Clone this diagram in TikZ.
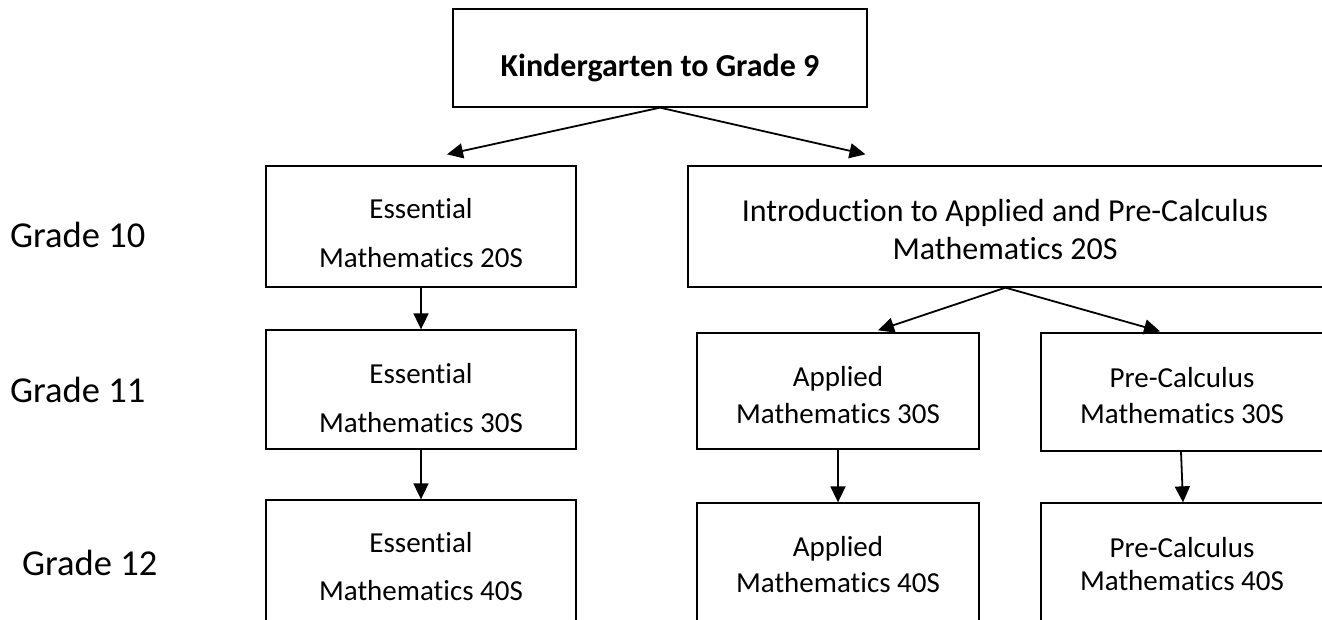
\documentclass[tikz,border=0pt]{standalone}
\usepackage{fontspec}
\setmainfont{Carlito}[Ligatures=NoCommon]
\usetikzlibrary{arrows.meta,calc}
\begin{document}
\begin{tikzpicture}[x=1pt,y=-1pt,
  box/.style={draw=black,line width=1.3pt,fill=white,inner sep=0pt},
  arr/.style={line width=1.8pt,-{Triangle[length=16pt,width=15pt]}},
  txt/.style={anchor=base,inner sep=0pt,font=\fontsize{29}{35}\selectfont},
  bigtxt/.style={anchor=base,inner sep=0pt,font=\fontsize{32}{38}\selectfont},
  gradetxt/.style={anchor=base west,inner sep=0pt,font=\fontsize{36.5}{44}\selectfont}]
\useasboundingbox (0,0) rectangle (1322,620);
\clip (0,0) rectangle (1322,620);
% boxes
\node[box,minimum width=414pt,minimum height=98pt] (k9) at (660,58) {};
\node[box,minimum width=310pt,minimum height=121pt] (e20) at (421,226.5) {};
\node[box,minimum width=310pt,minimum height=119pt] (e30) at (421,389.5) {};
\node[box,minimum width=310pt,minimum height=140pt] (e40) at (421,570) {};
\node[box,minimum width=635pt,minimum height=121pt] (intro) at (1005.5,226.5) {};
\node[box,minimum width=282pt,minimum height=116pt] (a30) at (838,391) {};
\node[box,minimum width=282pt,minimum height=137pt] (a40) at (838,571.5) {};
\node[box,minimum width=282pt,minimum height=118pt] (p30) at (1182,392) {};
\node[box,minimum width=282pt,minimum height=137pt] (p40) at (1182,571.5) {};
% texts
\node[bigtxt,font=\fontsize{32}{38}\selectfont\bfseries] (k9t) at (660,77) {Kindergarten to Grade 9};
\node[txt] (e20a) at (421,219) {Essential};
\node[txt] (e20b) at (421,268) {Mathematics 20S};
\node[txt] (e30a) at (421,383) {Essential};
\node[txt] (e30b) at (421,432) {Mathematics 30S};
\node[txt] (e40a) at (421,552) {Essential};
\node[txt] (e40b) at (421,600) {Mathematics 40S};
\node[bigtxt] (introa) at (1005,222) {Introduction to Applied and Pre-Calculus};
\node[bigtxt] (introb) at (1005,260) {Mathematics 20S};
\node[txt] (a30a) at (838,386) {Applied};
\node[txt] (a30b) at (838,423) {Mathematics 30S};
\node[txt] (a40a) at (838,556) {Applied};
\node[txt] (a40b) at (838,592) {Mathematics 40S};
\node[txt] (p30a) at (1182,387) {Pre-Calculus};
\node[txt] (p30b) at (1182,423) {Mathematics 30S};
\node[txt] (p40a) at (1182,557) {Pre-Calculus};
\node[txt] (p40b) at (1182,590) {Mathematics 40S};
\node[gradetxt] (g10) at (10,248) {Grade 10};
\node[gradetxt] (g11) at (10,402) {Grade 11};
\node[gradetxt] (g12) at (22,575) {Grade 12};
% arrow ends
\coordinate (tipE) at ($(e20.north)+(26,-11)$);
\coordinate (tipI) at ($(intro.north)+(-140,-11)$);
\coordinate (tipA) at ($(a30.north)+(40,-2)$);
\coordinate (tipP) at ($(p30.north)+(-22,-1)$);
% connectors
\draw[arr] (k9.south) -- (tipE);
\draw[arr] (k9.south) -- (tipI);
\draw[arr] (intro.south) -- (tipA);
\draw[arr] (intro.south) -- (tipP);
\draw[arr] (e20.south) -- (e30.north);
\draw[arr] (e30.south) -- (e40.north);
\draw[arr] (a30.south) -- (a40.north);
\draw[arr] ($(p30.south)+(-1,0)$) -- ($(p40.north)+(1,0)$);
\end{tikzpicture}
\end{document}
